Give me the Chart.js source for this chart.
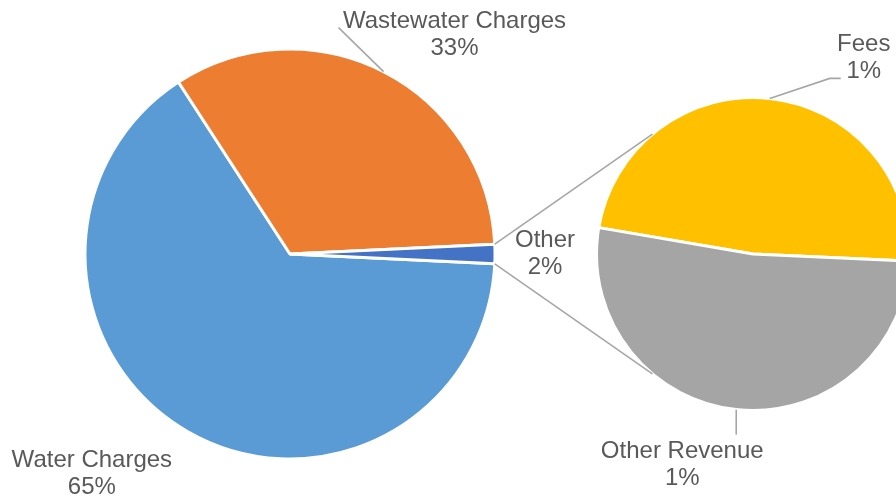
<!DOCTYPE html>
<html>
<head>
<meta charset="utf-8">
<script src="https://cdn.jsdelivr.net/npm/chart.js@4.4.1/dist/chart.umd.min.js"></script>
<style>
  body { margin: 0; background: #fff; overflow: hidden; }
  #wrap { position: relative; width: 896px; height: 497px; }
  canvas { position: absolute; left: 0; top: 0; }
</style>
</head>
<body>
<div id="wrap">
  <canvas id="mainPie" width="896" height="497"></canvas>
  <canvas id="subPie" width="896" height="497"></canvas>
</div>
<script>
const mainLabels = ['Water Charges', 'Wastewater Charges', 'Other'];
const mainValues = [65.08, 33.4, 1.52];
const subLabels = ['Fees', 'Other Revenue'];
const subValues = [0.73, 0.79];

const mainColors = ['#5B9BD5', '#ED7D31', '#4472C4'];
const subColors = ['#FFC000', '#A5A5A5'];
const textColor = '#595959';
const lineColor = '#A6A6A6';
const fontCss = "24px 'Liberation Sans', Arial, sans-serif";

// where each label sits, relative to the outer mid point of its slice
const mainLabelPos = [
    {dx: -96, dy: 42, leader: null},
    {dx: 71, dy: -37, leader: [[-45, -44]]},
    {dx: 50, dy: 0, leader: null}
];
const subLabelPos = [
    {dx: 94, dy: -41, leader: [[60, -20], [71, -20]]},
    {dx: -54, dy: 55, leader: [[0, 25]]}
];

const grandTotal = mainValues.reduce((a, b) => a + b, 0);
const pct = v => Math.round(v / grandTotal * 100) + '%';

const drawLabels = (chart, names, values, pos) => {
    const ctx = chart.ctx;
    const arcs = chart.getDatasetMeta(0).data;
    ctx.save();
    ctx.font = fontCss;
    ctx.fillStyle = textColor;
    ctx.textAlign = 'center';
    ctx.textBaseline = 'middle';
    arcs.forEach((arc, i) => {
        const mid = (arc.startAngle + arc.endAngle) / 2;
        const ax = arc.x + Math.cos(mid) * arc.outerRadius;
        const ay = arc.y + Math.sin(mid) * arc.outerRadius;
        const p = pos[i];
        if (p.leader) {
            ctx.strokeStyle = lineColor;
            ctx.lineWidth = 1.6;
            ctx.beginPath();
            ctx.moveTo(ax, ay);
            p.leader.forEach(pt => ctx.lineTo(ax + pt[0], ay + pt[1]));
            ctx.stroke();
        }
        ctx.fillText(names[i], ax + p.dx, ay + p.dy - 13.5);
        ctx.fillText(pct(values[i]), ax + p.dx, ay + p.dy + 13.5);
    });
    ctx.restore();
};

const baseOptions = {
    responsive: false,
    animation: false,
    events: [],
    plugins: { legend: { display: false }, tooltip: { enabled: false } }
};

// main pie: "Other" slice centred on the right side
const otherShare = mainValues[2] / grandTotal;
const mainChart = new Chart(document.getElementById('mainPie'), {
    type: 'pie',
    data: {
        labels: mainLabels,
        datasets: [{
            data: mainValues,
            backgroundColor: mainColors,
            borderColor: '#fff',
            borderWidth: 3
        }]
    },
    options: {
        ...baseOptions,
        rotation: 90 + otherShare * 180,
        radius: 205,
        layout: { padding: { left: 85, right: 401, top: 49, bottom: 38 } }
    },
    plugins: [{
        id: 'mainLabels',
        afterDraw: chart => drawLabels(chart, mainLabels, mainValues, mainLabelPos)
    }]
});

const connectorPlugin = {
    id: 'connector',
    afterDatasetsDraw(chart) {
        const other = mainChart.getDatasetMeta(0).data[2];
        const sub = chart.getDatasetMeta(0).data[0];
        const spread = 50 * Math.PI / 180;
        const pairs = [
            [other.startAngle, Math.PI + spread],
            [other.endAngle, Math.PI - spread]
        ];
        const ctx = chart.ctx;
        ctx.save();
        ctx.strokeStyle = lineColor;
        ctx.lineWidth = 1.6;
        pairs.forEach(([a, b]) => {
            ctx.beginPath();
            ctx.moveTo(other.x + Math.cos(a) * other.outerRadius, other.y + Math.sin(a) * other.outerRadius);
            ctx.lineTo(sub.x + Math.cos(b) * sub.outerRadius, sub.y + Math.sin(b) * sub.outerRadius);
            ctx.stroke();
        });
        ctx.restore();
    }
};

new Chart(document.getElementById('subPie'), {
    type: 'pie',
    data: {
        labels: subLabels,
        datasets: [{
            data: subValues,
            backgroundColor: subColors,
            borderColor: '#fff',
            borderWidth: 3
        }]
    },
    options: {
        ...baseOptions,
        rotation: -80.3,
        radius: 156.5,
        layout: { padding: { left: 610, right: 0, top: 99, bottom: 88 } }
    },
    plugins: [connectorPlugin, {
        id: 'subLabels',
        afterDraw: chart => drawLabels(chart, subLabels, subValues, subLabelPos)
    }]
});
</script>
</body>
</html>
